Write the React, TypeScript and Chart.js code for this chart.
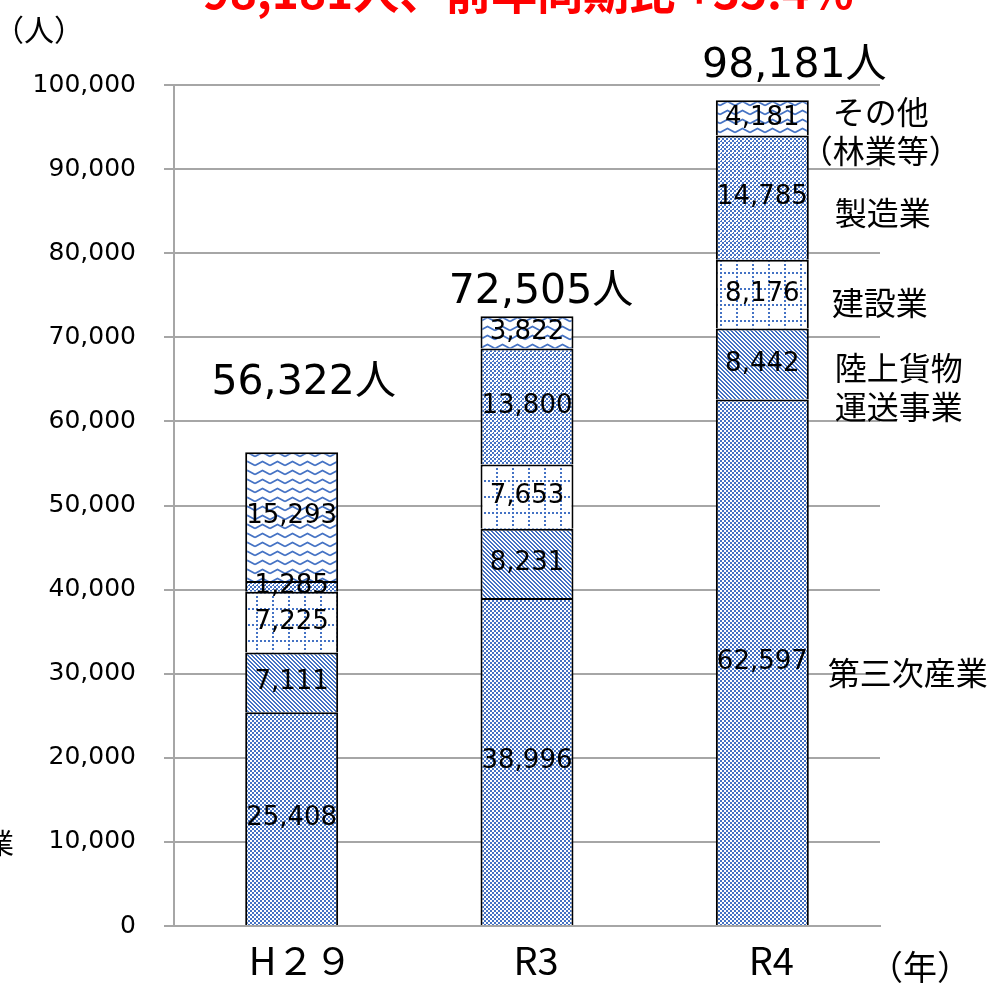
import React, { useEffect, useRef } from 'react';
import { Chart, registerables } from 'chart.js';

Chart.register(...registerables);

// ---- data ----
const categories = ['H２９', 'R3', 'R4'];
const seriesNames = ['第三次産業', '陸上貨物運送事業', '建設業', '製造業', 'その他（林業等）'];
const tertiary = [25408, 38996, 62597];
const roadFreight = [7111, 8231, 8442];
const construction = [7225, 7653, 8176];
const manufacturing = [1285, 13800, 14785];
const others = [15293, 3822, 4181];
const totals = [56322, 72505, 98181];
const seriesLabelLines = [['第三次産業'], ['陸上貨物', '運送事業'], ['建設業'], ['製造業'], ['その他', '（林業等）']];
const yMin = 0;
const yMax = 100000;
const yStep = 10000;
const titleText = '98,181人、前年同期比 +35.4%';
const yUnit = '（人）';
const xUnit = '（年）';

// ---- styles ----
const BLUE = '#4472C4';
const GRID = '#A6A6A6';
const NUM_FONT = '"DejaVu Sans", "Noto Sans CJK JP", sans-serif';
const JP_FONT = '"Noto Sans CJK JP", sans-serif';
const totalOffsets = [
  { dx: 12, dy: 58 },
  { dx: 14, dy: 13 },
  { dx: 32, dy: 23 },
];
// offsets of the series names next to the last bar
const seriesLabelStyle = [
  { dy: 11, align: 'left', dx: 19 },
  { dy: 23, align: 'left', dx: 26 },
  { dy: 9, align: 'left', dx: 23 },
  { dy: 15, align: 'left', dx: 26 },
  { dy: 13, align: 'center', dx: 72 },
];

const fmt = (v: number) => v.toLocaleString('en-US');

function makePattern(ctx: CanvasRenderingContext2D, w: number, h: number, draw: (g: CanvasRenderingContext2D) => void) {
  const c = document.createElement('canvas');
  c.width = w;
  c.height = h;
  const g = c.getContext('2d') as CanvasRenderingContext2D;
  g.fillStyle = '#ffffff';
  g.fillRect(0, 0, w, h);
  g.fillStyle = BLUE;
  g.strokeStyle = BLUE;
  draw(g);
  return ctx.createPattern(c, 'repeat') as CanvasPattern;
}

const overlayPlugin = {
  id: 'overlay',
  afterDraw(chart: any) {
    const ctx: CanvasRenderingContext2D = chart.ctx;
    ctx.save();
    ctx.fillStyle = '#000';
    // segment values
    ctx.font = `26px ${NUM_FONT}`;
    ctx.textAlign = 'center';
    ctx.textBaseline = 'middle';
    chart.data.datasets.forEach((ds: any, di: number) => {
      chart.getDatasetMeta(di).data.forEach((el: any, i: number) => {
        ctx.fillText(fmt(ds.data[i]), el.x, (el.y + el.base) / 2);
      });
    });
    // totals
    const topMeta = chart.getDatasetMeta(chart.data.datasets.length - 1);
    ctx.font = `41px ${NUM_FONT}`;
    ctx.textBaseline = 'alphabetic';
    totals.forEach((t, i) => {
      const el = topMeta.data[i];
      const off = totalOffsets[i];
      ctx.fillText(fmt(t) + '人', el.x + off.dx, el.y - off.dy);
    });
    // series names next to last bar
    const last = categories.length - 1;
    ctx.font = `32px ${JP_FONT}`;
    ctx.textBaseline = 'middle';
    seriesLabelLines.forEach((lines, di) => {
      const el: any = chart.getDatasetMeta(di).data[last];
      const st = seriesLabelStyle[di];
      const mid = (el.y + el.base) / 2 + st.dy;
      const right = el.x + el.width / 2;
      ctx.textAlign = st.align as CanvasTextAlign;
      const lh = 39;
      lines.forEach((ln, li) => {
        const yy = mid + (li - (lines.length - 1) / 2) * lh;
        ctx.fillText(ln, right + st.dx, yy);
      });
    });
    // unit labels
    ctx.textAlign = 'center';
    ctx.font = `30px ${JP_FONT}`;
    ctx.fillText(yUnit, 39, 30);
    ctx.font = `34px ${JP_FONT}`;
    ctx.fillText(xUnit, 920, 967);
    ctx.font = `28px ${JP_FONT}`;
    ctx.fillText('業', 0, 843);
    // cut-off red title
    ctx.font = `bold 46px ${JP_FONT}`;
    ctx.fillStyle = '#FF0000';
    ctx.textBaseline = 'alphabetic';
    ctx.fillText(titleText, 528, 9);
    ctx.restore();
  },
};

export default function App() {
  const ref = useRef<HTMLCanvasElement | null>(null);
  useEffect(() => {
    const canvas = ref.current;
    if (!canvas) return;
    const ctx = canvas.getContext('2d') as CanvasRenderingContext2D;

    const pChecker = makePattern(ctx, 4, 4, (g) => {
      g.fillRect(0, 0, 2, 2);
      g.fillRect(2, 2, 2, 2);
    });
    const pDiag = makePattern(ctx, 4, 4, (g) => {
      for (let i = 0; i < 4; i++) {
        g.fillRect(i, i, 1, 1);
        g.fillRect((i + 1) % 4, i, 1, 1);
      }
    });
    const pDotGrid = makePattern(ctx, 16, 16, (g) => {
      for (let x = 0; x < 16; x += 4) g.fillRect(x, 0, 2, 2);
      for (let y = 0; y < 16; y += 4) g.fillRect(0, y, 2, 2);
    });
    const pCheckerGrid = makePattern(ctx, 8, 8, (g) => {
      for (let y = 0; y < 8; y += 2) {
        for (let x = 0; x < 8; x += 2) {
          if (((x + y) / 2) % 2 === 0) g.fillRect(x, y, 2, 2);
        }
      }
      g.fillStyle = '#ffffff';
      for (let x = 0; x < 8; x += 2) g.fillRect(x, 0, 1, 1);
      for (let y = 0; y < 8; y += 2) g.fillRect(0, y, 1, 1);
    });
    const pZigzag = makePattern(ctx, 15, 9, (g) => {
      g.lineWidth = 1.6;
      g.beginPath();
      g.moveTo(0, 6.5);
      g.lineTo(7.5, 2.5);
      g.lineTo(15, 6.5);
      g.stroke();
    });

    const fills = [pChecker, pDiag, pDotGrid, pCheckerGrid, pZigzag];
    const values = [tertiary, roadFreight, construction, manufacturing, others];

    const chart = new Chart(canvas, {
      type: 'bar',
      data: {
        labels: categories,
        datasets: values.map((vals, i) => ({
          label: seriesNames[i],
          data: vals,
          backgroundColor: fills[i],
          borderColor: '#000',
          borderWidth: 2,
          borderSkipped: 'bottom',
          categoryPercentage: 1,
          barPercentage: 0.395,
        })),
      },
      options: {
        responsive: false,
        animation: false,
        events: [],
        layout: { padding: { left: 0, top: 85, right: 110, bottom: 0 } },
        plugins: {
          legend: { display: false },
          tooltip: { enabled: false },
          title: { display: false },
        },
        scales: {
          x: {
            stacked: true,
            grid: { display: false, drawTicks: false },
            border: { display: true, color: GRID, width: 2 },
            ticks: {
              color: '#000',
              font: { family: JP_FONT, size: 38 },
              padding: 12,
              labelOffset: 9,
              maxRotation: 0,
            },
            afterFit: (s: any) => {
              s.height = 61;
            },
          },
          y: {
            stacked: true,
            min: yMin,
            max: yMax,
            grid: { color: GRID, lineWidth: 2, tickLength: 10, drawTicks: true },
            border: { display: true, color: GRID, width: 2 },
            ticks: {
              stepSize: yStep,
              color: '#000',
              font: { family: NUM_FONT, size: 25 },
              padding: 28,
              callback: (v: any) => fmt(Number(v)),
            },
            afterFit: (s: any) => {
              s.width = 174;
            },
          },
        },
      },
      plugins: [overlayPlugin],
    });
    return () => chart.destroy();
  }, []);

  return (
    <div style={{ position: 'absolute', left: 0, top: 0, width: 990, height: 987, background: '#fff' }}>
      <canvas ref={ref} width={990} height={987} style={{ display: 'block', width: 990, height: 987 }} />
    </div>
  );
}
